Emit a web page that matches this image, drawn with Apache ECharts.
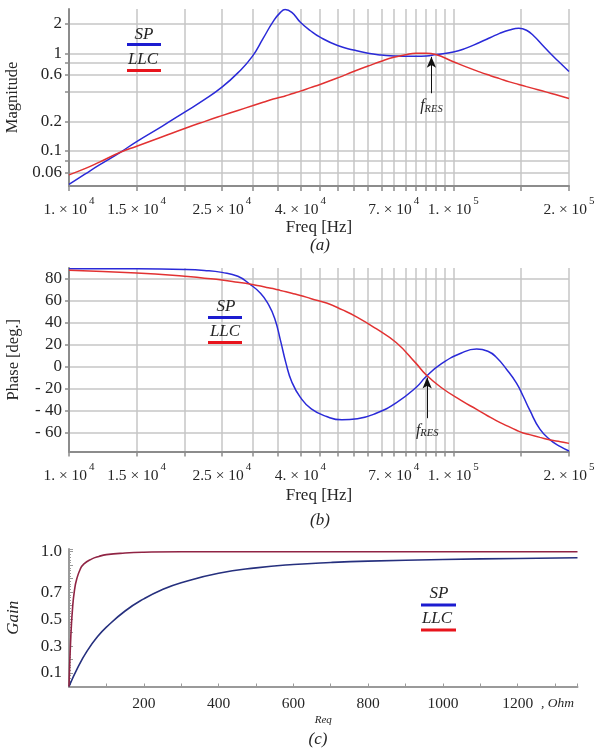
<!DOCTYPE html>
<html><head><meta charset="utf-8">
<script src="https://cdn.jsdelivr.net/npm/echarts@6/dist/echarts.min.js"></script>
<style>html,body{margin:0;padding:0;background:#fff}#c{width:603px;height:751px}</style>
</head><body><div id="c"></div>
<script>
// ---------- DATA ----------
// Panel (a): magnitude vs frequency
const freqMag = [1e4, 1.1e4, 1.2e4, 1.36e4, 1.5e4, 1.75e4, 2e4, 2.25e4, 2.5e4, 2.75e4, 3e4, 3.2e4, 3.4e4, 3.55e4, 3.65e4, 3.8e4, 4e4, 4.25e4, 4.5e4, 5e4, 5.5e4, 6e4, 6.5e4, 7e4, 7.5e4, 8e4, 8.5e4, 9e4, 1e5, 1.08e5, 1.17e5, 1.25e5, 1.32e5, 1.4e5, 1.48e5, 1.55e5, 1.62e5, 1.7e5, 1.8e5, 1.9e5, 2e5];
const magSP  = [0.0456, 0.058, 0.072, 0.097, 0.125, 0.18, 0.25, 0.335, 0.45, 0.63, 0.93, 1.42, 2.12, 2.62, 2.8, 2.62, 2.08, 1.7, 1.46, 1.2, 1.08, 1.0, 0.96, 0.94, 0.93, 0.93, 0.94, 0.97, 1.03, 1.13, 1.29, 1.45, 1.6, 1.73, 1.8, 1.72, 1.5, 1.23, 0.97, 0.79, 0.65];
const magLLC = [0.057, 0.066, 0.077, 0.097, 0.112, 0.14, 0.17, 0.2, 0.23, 0.26, 0.29, 0.315, 0.34, 0.355, 0.365, 0.385, 0.41, 0.445, 0.48, 0.56, 0.65, 0.74, 0.83, 0.91, 0.965, 1.0, 1.0, 0.97, 0.82, 0.725, 0.645, 0.59, 0.55, 0.51, 0.48, 0.456, 0.435, 0.413, 0.388, 0.366, 0.345];

// Panel (b): phase vs frequency
const freqPh = [1e4, 1.5e4, 2e4, 2.25e4, 2.5e4, 2.75e4, 2.95e4, 3.15e4, 3.3e4, 3.43e4, 3.55e4, 3.67e4, 3.8e4, 4e4, 4.27e4, 4.68e4, 5.13e4, 5.63e4, 6.3e4, 7.1e4, 8e4, 8.5e4, 9.3e4, 1.05e5, 1.15e5, 1.23e5, 1.29e5, 1.38e5, 1.46e5, 1.52e5, 1.58e5, 1.68e5, 1.79e5, 1.9e5, 2e5];
const phSP  = [89.4, 89.3, 88.7, 87.8, 86, 82.5, 75.4, 67, 57, 44, 24, 3, -14, -28, -38.5, -45.5, -48.5, -47.5, -42.5, -33, -19, -9, 2.5, 12.5, 16, 14, 9, -3, -15, -27, -39.5, -57, -67, -73, -77];
const phLLC = [88, 85.5, 82.5, 80.7, 79, 77, 75.4, 73.5, 72, 70.8, 69.5, 68.3, 67, 65, 62, 58, 52, 45, 34.6, 22, 3, -7.5, -19, -31, -39, -45, -49, -54, -58, -60.5, -62, -64.5, -67, -68.5, -70];

// Panel (c): gain vs Req
const reqSP   = [0, 25, 50, 75, 100, 150, 200, 250, 300, 400, 500, 600, 700, 800, 1000, 1200, 1360];
const gainSP  = [0, 0.15, 0.27, 0.365, 0.44, 0.56, 0.65, 0.72, 0.77, 0.84, 0.88, 0.905, 0.92, 0.93, 0.942, 0.95, 0.955];
const reqLLC  = [0, 5, 10, 15, 20, 30, 40, 60, 80, 100, 150, 200, 300, 500, 1360];
const gainLLC = [0, 0.38, 0.6, 0.72, 0.79, 0.87, 0.91, 0.945, 0.965, 0.978, 0.99, 0.996, 1.0, 1.0, 1.0];

// Axis ticks / labels
const freqGrid = [1e4,1.5e4,2e4,2.5e4,3e4,3.5e4,4e4,4.5e4,5e4,5.5e4,6e4,6.5e4,7e4,7.5e4,8e4,8.5e4,9e4,9.5e4,1e5,1.5e5,2e5];
const freqLabelVals = [1e4, 1.5e4, 2.5e4, 4e4, 7e4, 1e5, 2e5];
const freqLabelMant = ['1.', '1.5', '2.5', '4.', '7.', '1.', '2.'];
const freqLabelExp  = ['4', '4', '4', '4', '4', '5', '5'];
const magGrid = [0.06, 0.08, 0.1, 0.2, 0.4, 0.6, 0.8, 1, 2];
const magLabelVals = [0.06, 0.1, 0.2, 0.6, 1, 2];
const magLabelText = ['0.06', '0.1', '0.2', '0.6', '1', '2'];
const phTicks = [-60, -40, -20, 0, 20, 40, 60, 80];
const gainLabelVals = [0.1, 0.3, 0.5, 0.7, 1.0];
const reqLabelVals = [200, 400, 600, 800, 1000, 1200];
const fresMag = [8.77e4, 0.39, 0.92];   // freq, arrow base, arrow tip
const fresPh  = [8.55e4, -47, -10];

// ---------- CHART ----------
const lg = Math.log10;
const SERIF = '"Liberation Serif", "Times New Roman", serif';
const TXT = '#262626';
const BLUE = '#2a2ad8', RED = '#e23232';
const near = (arr, v) => arr.findIndex(a => Math.abs(lg(a) - v) < 1e-6);

function freqAxis(gi, gap) {
  return {
    gridIndex: gi, type: 'value', min: 4, max: lg(2e5),
    name: 'Freq [Hz]', nameLocation: 'middle', nameGap: gap,
    nameTextStyle: {fontFamily: SERIF, fontSize: 17, color: TXT},
    axisLine: {onZero: false, lineStyle: {color: '#8c8c8c', width: 2}},
    axisTick: {show: true, customValues: freqGrid.map(lg), length: 5, lineStyle: {color: '#8c8c8c', width: 1.5}},
    splitLine: {show: true, lineStyle: {color: '#c6c6c6', width: 1.5}},
    axisLabel: {
      customValues: freqLabelVals.map(lg), margin: 10, hideOverlap: false,
      formatter: v => { const i = near(freqLabelVals, v); return i < 0 ? '' : '{m|' + freqLabelMant[i] + ' × 10}{s|' + freqLabelExp[i] + '}'; },
      rich: {
        m: {fontFamily: SERIF, fontSize: 15.5, color: TXT},
        s: {fontFamily: SERIF, fontSize: 11, color: TXT, padding: [0, 0, 17, 2]}
      }
    }
  };
}

const lineBase = {type: 'line', showSymbol: false, smooth: 0.5, animation: false, clip: true};
const fresLabel = {
  show: true, position: 'start', distance: 4,
  formatter: '{f|f}{r|RES}',
  rich: {f: {fontFamily: SERIF, fontStyle: 'italic', fontSize: 16, color: TXT},
         r: {fontFamily: SERIF, fontStyle: 'italic', fontSize: 10.5, color: TXT, padding: [6, 0, 0, 0]}}
};
const gtext = (x, y, text, size, align) => ({type: 'text', z: 100, x: x, y: y,
  style: {text: text, font: 'italic ' + size + 'px ' + SERIF, fill: TXT, align: align || 'center', verticalAlign: 'middle'}});
const grect = (x, y, w, color) => ({type: 'rect', z: 100, shape: {x: x, y: y, width: w, height: 3}, style: {fill: color}});

const option = {
  backgroundColor: '#fff',
  animation: false,
  grid: [
    {left: 69, right: 34, top: 9, height: 177, outerBoundsMode: 'none'},
    {left: 69, right: 34, top: 268, height: 183.5, outerBoundsMode: 'none'},
    {left: 69, right: 25.5, top: 549, height: 137.5, outerBoundsMode: 'none'}
  ],
  xAxis: [
    freqAxis(0, 33),
    freqAxis(1, 36),
    {
      gridIndex: 2, type: 'value', min: 0, max: 1360, interval: 100,
      name: 'Req', nameLocation: 'middle', nameGap: 28,
      nameTextStyle: {fontFamily: SERIF, fontSize: 11, fontStyle: 'italic', color: TXT},
      axisLine: {onZero: false, lineStyle: {color: '#9a9a9a', width: 2}},
      axisTick: {show: true, inside: true, length: 3, lineStyle: {color: '#9a9a9a', width: 1}},
      splitLine: {show: false},
      axisLabel: {customValues: reqLabelVals, margin: 9, fontFamily: SERIF, fontSize: 15.5, color: TXT, hideOverlap: false,
        formatter: v => String(v)}
    }
  ],
  yAxis: [
    {
      gridIndex: 0, type: 'value', min: -1.358, max: 0.453,
      name: 'Magnitude', nameLocation: 'middle', nameGap: 47,
      nameTextStyle: {fontFamily: SERIF, fontSize: 16.5, color: TXT},
      axisLine: {show: true, onZero: false, lineStyle: {color: '#8c8c8c', width: 2}},
      axisTick: {show: true, customValues: magGrid.map(lg), length: 4, lineStyle: {color: '#8c8c8c', width: 1.5}},
      splitLine: {show: true, lineStyle: {color: '#c6c6c6', width: 1.5}},
      axisLabel: {customValues: magLabelVals.map(lg), margin: 7, fontFamily: SERIF, fontSize: 17, color: TXT, hideOverlap: false,
        formatter: v => { const i = near(magLabelVals, v); return i < 0 ? '' : magLabelText[i]; }}
    },
    {
      gridIndex: 1, type: 'value', min: -77.4, max: 90,
      name: 'Phase [deg.]', nameLocation: 'middle', nameGap: 47,
      nameTextStyle: {fontFamily: SERIF, fontSize: 16.5, color: TXT},
      axisLine: {show: true, onZero: false, lineStyle: {color: '#8c8c8c', width: 2}},
      axisTick: {show: true, customValues: phTicks, length: 4, lineStyle: {color: '#8c8c8c', width: 1.5}},
      splitLine: {show: true, lineStyle: {color: '#c6c6c6', width: 1.5}},
      axisLabel: {customValues: phTicks, margin: 7, fontFamily: SERIF, fontSize: 17, color: TXT, hideOverlap: false,
        formatter: v => v < 0 ? '- ' + Math.abs(v) : String(v)}
    },
    {
      gridIndex: 2, type: 'value', min: 0, max: 1.02, interval: 0.1,
      name: 'Gain', nameLocation: 'middle', nameGap: 47,
      nameTextStyle: {fontFamily: SERIF, fontSize: 17, fontStyle: 'italic', color: TXT},
      axisLine: {show: true, onZero: false, lineStyle: {color: '#9a9a9a', width: 2}},
      axisTick: {show: true, inside: true, length: 4, lineStyle: {color: '#9a9a9a', width: 1}},
      minorTick: {show: true, splitNumber: 5, length: 2, lineStyle: {color: '#9a9a9a', width: 1}},
      splitLine: {show: false},
      axisLabel: {customValues: gainLabelVals, margin: 7, fontFamily: SERIF, fontSize: 17, color: TXT, hideOverlap: false,
        formatter: v => v.toFixed(1)}
    }
  ],
  series: [
    Object.assign({}, lineBase, {name: 'SP', xAxisIndex: 0, yAxisIndex: 0,
      data: freqMag.map((f, i) => [lg(f), lg(magSP[i])]), lineStyle: {color: BLUE, width: 1.5}}),
    Object.assign({}, lineBase, {name: 'LLC', xAxisIndex: 0, yAxisIndex: 0,
      data: freqMag.map((f, i) => [lg(f), lg(magLLC[i])]), lineStyle: {color: RED, width: 1.5},
      markLine: {silent: true, symbol: ['none', 'arrow'], symbolSize: [7, 11], animation: false,
        lineStyle: {color: '#111', width: 1, type: 'solid'}, label: fresLabel,
        data: [[{coord: [lg(fresMag[0]), lg(fresMag[1])]}, {coord: [lg(fresMag[0]), lg(fresMag[2])]}]]}}),
    Object.assign({}, lineBase, {name: 'SP', xAxisIndex: 1, yAxisIndex: 1,
      data: freqPh.map((f, i) => [lg(f), phSP[i]]), lineStyle: {color: BLUE, width: 1.5}}),
    Object.assign({}, lineBase, {name: 'LLC', xAxisIndex: 1, yAxisIndex: 1,
      data: freqPh.map((f, i) => [lg(f), phLLC[i]]), lineStyle: {color: RED, width: 1.5},
      markLine: {silent: true, symbol: ['none', 'arrow'], symbolSize: [7, 11], animation: false,
        lineStyle: {color: '#111', width: 1, type: 'solid'}, label: fresLabel,
        data: [[{coord: [lg(fresPh[0]), fresPh[1]]}, {coord: [lg(fresPh[0]), fresPh[2]]}]]}}),
    Object.assign({}, lineBase, {name: 'SP', xAxisIndex: 2, yAxisIndex: 2,
      data: reqSP.map((r, i) => [r, gainSP[i]]), lineStyle: {color: '#26307e', width: 1.6}}),
    Object.assign({}, lineBase, {name: 'LLC', xAxisIndex: 2, yAxisIndex: 2,
      data: reqLLC.map((r, i) => [r, gainLLC[i]]), lineStyle: {color: '#902444', width: 1.6}})
  ],
  graphic: [
    // legend (a)
    gtext(144, 35, 'SP', 17), grect(127, 43, 34, '#1c1cd0'),
    gtext(143, 60, 'LLC', 17), grect(127, 69, 34, '#e8141c'),
    // legend (b)
    gtext(226, 307, 'SP', 17), grect(208, 316, 34, '#1c1cd0'),
    gtext(225, 332, 'LLC', 17), grect(208, 341, 34, '#e8141c'),
    // legend (c)
    gtext(439, 594, 'SP', 17), grect(421, 603.5, 35, '#1c1cd0'),
    gtext(437, 619, 'LLC', 17), grect(421, 628.5, 35, '#e8141c'),
    // sub-captions
    gtext(320, 246, '(a)', 17), gtext(320, 521, '(b)', 17), gtext(318, 740, '(c)', 17),
    gtext(541, 703, ', Ohm', 13.5, 'left')
  ]
};
const chart = echarts.init(document.getElementById('c'), null, {renderer: 'canvas'});
chart.setOption(option);
</script></body></html>
